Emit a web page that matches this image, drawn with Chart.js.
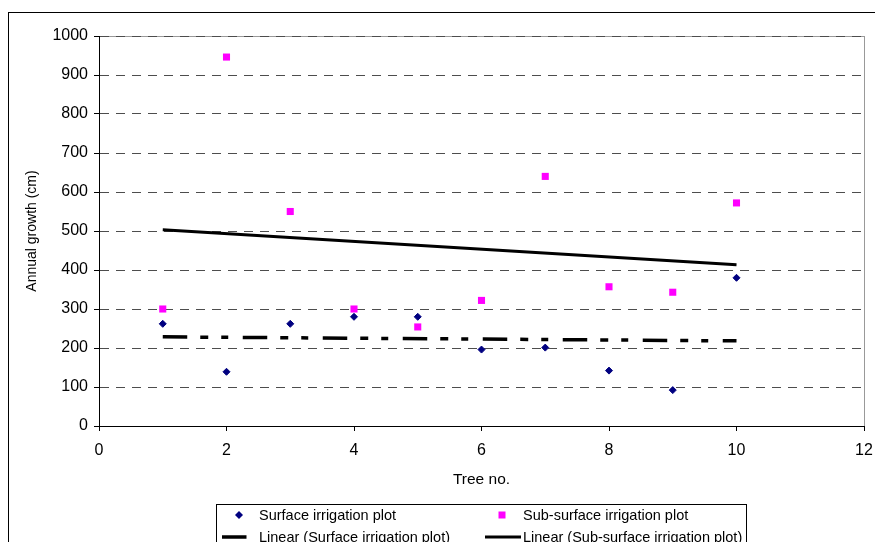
<!DOCTYPE html>
<html>
<head>
<meta charset="utf-8">
<script src="https://cdn.jsdelivr.net/npm/chart.js@4.4.0/dist/chart.umd.min.js"></script>
<style>
body { margin: 0; background: #fff; }
#wrap { width: 875px; height: 542px; }
</style>
</head>
<body>
<div id="wrap"><canvas id="myChart" width="875" height="542"></canvas></div>
<script>
// data
const treeNo = [1, 2, 3, 4, 5, 6, 7, 8, 9, 10];
const surfaceGrowth = [262, 139, 262, 280, 280, 196, 201, 142, 92, 380];
const subSurfaceGrowth = [300, 946, 550, 300, 254, 322, 640, 357, 343, 572];
const xTicks = [0, 2, 4, 6, 8, 10, 12];
const yTicks = [0, 100, 200, 300, 400, 500, 600, 700, 800, 900, 1000];
const seriesNames = ['Surface irrigation plot', 'Sub-surface irrigation plot'];

// least squares trend line, first to last tree
function linearFit(xs, ys) {
    const n = xs.length;
    let mx = 0, my = 0;
    for (let i = 0; i < n; i++) { mx += xs[i]; my += ys[i]; }
    mx /= n; my /= n;
    let sxy = 0, sxx = 0;
    for (let i = 0; i < n; i++) {
        sxy += (xs[i] - mx) * (ys[i] - my);
        sxx += (xs[i] - mx) * (xs[i] - mx);
    }
    const b = sxy / sxx, a = my - b * mx;
    return [{ x: xs[0], y: a + b * xs[0] }, { x: xs[n - 1], y: a + b * xs[n - 1] }];
}

function toPoints(xs, ys) {
    return xs.map((x, i) => ({ x: x, y: ys[i] }));
}

Chart.defaults.font.family = '"Liberation Sans", Arial, sans-serif';
Chart.defaults.color = '#000';

// frame + legend box (Excel style)
const framePlugin = {
    id: 'frame',
    beforeDraw(chart) {
        const c = chart.ctx, a = chart.chartArea;
        c.save();
        c.fillStyle = '#fff';
        c.fillRect(0, 0, chart.width, chart.height);
        c.strokeStyle = '#000';
        c.lineWidth = 1;
        c.strokeRect(8.5, 12.5, 900, 600);
        c.strokeStyle = '#999';
        c.strokeRect(a.left + 0.5, a.top + 0.5, a.right - a.left, a.bottom - a.top);
        c.restore();
    },
    afterDraw(chart) {
        const c = chart.ctx;
        c.save();
        c.fillStyle = '#fff';
        c.fillRect(217, 505, 529, 60);
        c.strokeStyle = '#000';
        c.lineWidth = 1;
        c.strokeRect(216.5, 504.5, 530, 100);
        const cols = [{ mk: 239, tx: 259, l0: 222, l1: 247 }, { mk: 502, tx: 523, l0: 485, l1: 521 }];
        const rows = [515, 537];
        chart.data.datasets.forEach((ds, i) => {
            const col = cols[i % 2], y = rows[Math.floor(i / 2)];
            if (ds.showLine) {
                c.strokeStyle = ds.borderColor;
                c.lineWidth = ds.borderWidth;
                c.setLineDash(ds.borderDash || []);
                c.beginPath();
                c.moveTo(col.l0, y);
                c.lineTo(col.l1, y);
                c.stroke();
                c.setLineDash([]);
            } else {
                c.fillStyle = ds.backgroundColor;
                c.beginPath();
                if (ds.pointStyle === 'rectRot') {
                    const r = ds.pointRadius + 0.5;
                    c.moveTo(col.mk - r, y); c.lineTo(col.mk, y - r);
                    c.lineTo(col.mk + r, y); c.lineTo(col.mk, y + r);
                    c.closePath();
                } else {
                    c.rect(col.mk - 3.5, y - 3.5, 7, 7);
                }
                c.fill();
            }
            c.fillStyle = '#000';
            c.font = '14.5px "Liberation Sans", Arial, sans-serif';
            c.textBaseline = 'middle';
            c.textAlign = 'left';
            c.fillText(ds.label, col.tx, y + 0.5);
        });
        c.restore();
    }
};

const ctx = document.getElementById('myChart');
new Chart(ctx, {
    type: 'scatter',
    data: {
        datasets: [{
            label: seriesNames[0],
            data: toPoints(treeNo, surfaceGrowth),
            pointStyle: 'rectRot',
            pointRadius: 3.5,
            backgroundColor: '#000080',
            borderColor: '#000080',
            borderWidth: 1,
            showLine: false
        }, {
            label: seriesNames[1],
            data: toPoints(treeNo, subSurfaceGrowth),
            pointStyle: 'rect',
            pointRadius: 5,
            backgroundColor: '#FF00FF',
            borderColor: '#FF00FF',
            borderWidth: 0,
            showLine: false
        }, {
            label: 'Linear (' + seriesNames[0] + ')',
            data: linearFit(treeNo, surfaceGrowth),
            showLine: true,
            borderColor: '#000',
            borderWidth: 3.5,
            borderDash: [24.5, 13, 8, 13, 7, 14.5],
            pointRadius: 0
        }, {
            label: 'Linear (' + seriesNames[1] + ')',
            data: linearFit(treeNo, subSurfaceGrowth),
            showLine: true,
            borderColor: '#000',
            borderWidth: 3,
            pointRadius: 0
        }]
    },
    options: {
        responsive: false,
        devicePixelRatio: 1,
        animation: false,
        events: [],
        layout: { padding: { left: 24, top: 36, right: 11, bottom: 53 } },
        plugins: {
            legend: { display: false },
            tooltip: { enabled: false }
        },
        scales: {
            x: {
                type: 'linear',
                position: 'bottom',
                min: 0,
                max: 12,
                afterBuildTicks: s => { s.ticks = xTicks.map(v => ({ value: v })); },
                afterFit: s => { s.height = 63; s.paddingLeft = 0; s.paddingRight = 0; },
                ticks: { font: { size: 16 }, color: '#000', padding: 10, maxRotation: 0, autoSkip: false, callback: v => String(v) },
                grid: { drawOnChartArea: false, drawTicks: true, tickLength: 5, tickColor: '#000' },
                border: { color: '#000', width: 1 },
                title: { display: true, text: 'Tree no.', font: { size: 15.5 }, color: '#000', padding: 0 }
            },
            y: {
                type: 'linear',
                min: 0,
                max: 1000,
                afterBuildTicks: s => { s.ticks = yTicks.map(v => ({ value: v })); },
                afterFit: s => { s.width = 75; s.paddingTop = 0; s.paddingBottom = 0; },
                ticks: { font: { size: 16 }, color: '#000', padding: 6, autoSkip: false, callback: v => String(v) },
                grid: {
                    color: c => (c.tick && c.tick.value === 0) ? 'rgba(0,0,0,0)' : '#4d4d4d',
                    tickLength: 5,
                    tickColor: '#000'
                },
                border: { color: '#000', width: 1, dash: [9, 7] },
                title: { display: true, text: 'Annual growth (cm)', font: { size: 14 }, color: '#000', padding: 0 }
            }
        }
    },
    plugins: [framePlugin]
});
</script>
</body>
</html>
